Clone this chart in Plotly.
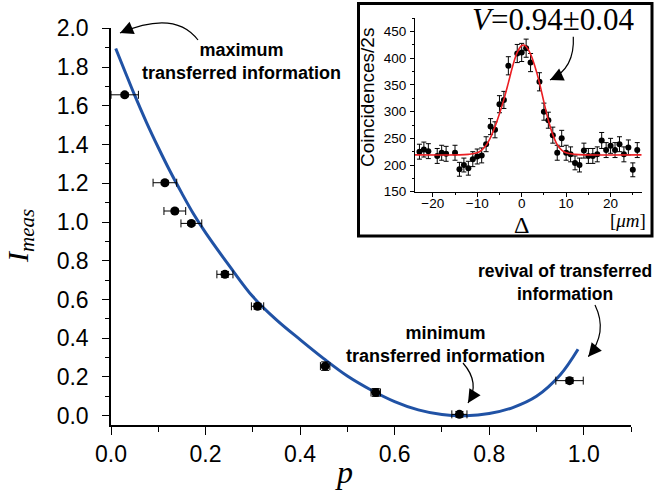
import plotly.graph_objects as go

# ---------------- data ----------------
# main panel: measured points
p_meas = [0.029, 0.114, 0.135, 0.170, 0.241, 0.310, 0.453, 0.560, 0.737, 0.970]
I_meas = [1.657, 1.203, 1.057, 0.993, 0.730, 0.565, 0.256, 0.120, 0.007, 0.181]
p_err = [0.029, 0.025, 0.023, 0.022, 0.017, 0.013, 0.010, 0.010, 0.016, 0.029]
I_err = [0.010, 0.010, 0.010, 0.010, 0.015, 0.015, 0.022, 0.020, 0.015, 0.015]

# main panel: theory curve
p_curve = [0.010, 0.030, 0.050, 0.075, 0.100, 0.125, 0.150, 0.175, 0.200, 0.250,
           0.300, 0.350, 0.400, 0.450, 0.500, 0.550, 0.600, 0.650, 0.700, 0.750,
           0.800, 0.850, 0.900, 0.950, 0.988]
I_curve = [1.896, 1.775, 1.655, 1.515, 1.385, 1.262, 1.148, 1.040, 0.945, 0.775,
           0.615, 0.495, 0.393, 0.295, 0.205, 0.133, 0.073, 0.030, 0.006, 0.000,
           0.011, 0.042, 0.100, 0.210, 0.343]

# inset: coincidences vs delay
delta = [-23, -22, -21, -19, -18, -17, -15, -14, -13, -12, -11, -10, -9, -8, -7, -6,
         -5, -4, -3, -1, 0, 1, 2, 4, 5, 6, 7, 8, 9, 10, 11, 12, 13, 14, 15, 16, 17,
         18, 19, 20, 21, 22, 23, 24, 25, 26]
coinc = [225, 229, 226, 217, 223, 221, 223, 192, 200, 194, 211, 216, 218, 239, 272, 266,
         314, 322, 386, 409, 411, 419, 392, 356, 300, 284, 256, 223, 250, 223, 220, 204,
         200, 227, 217, 217, 220, 246, 228, 236, 228, 239, 220, 233, 191, 228]
coinc_err = [14, 14, 14, 14, 14, 14, 14, 13, 13, 13, 14, 14, 14, 14, 15, 15,
             16, 16, 17, 17, 17, 17, 17, 17, 16, 15, 15, 14, 15, 14, 14, 13,
             13, 14, 14, 14, 14, 15, 14, 14, 14, 14, 14, 14, 13, 14]

# inset: fitted curve
delta_fit = [-24, -14, -12, -10, -9, -8, -7, -6, -5, -4, -3, -2, -1, 0, 0.5, 1, 2, 3, 4,
             5, 6, 7, 8, 9, 10, 12, 14, 27]
coinc_fit = [219, 219, 220, 223, 228, 237, 252, 272, 296, 323, 354, 386, 411, 424, 425,
             422, 408, 384, 354, 318, 284, 257, 238, 228, 223, 220, 219, 219]

# tick labels / texts
vis_text = "<i>V</i>=0.94±0.04"

# ---------------- layout helpers ----------------
W, H = 657, 491
ML, MR, MT, MB = 111, 10, 10, 66
PW, PH = W - ML - MR, H - MT - MB


def px(x, y):
    return (x - ML) / PW, (H - MB - y) / PH


BLUE = "rgb(32,82,165)"
RED = "rgb(235,30,35)"
SANS = "Liberation Sans, Arial, sans-serif"
SERIF = "Liberation Serif, Times New Roman, serif"

fig = go.Figure()

fig.add_trace(go.Scatter(x=p_curve, y=I_curve, mode="lines", line=dict(color=BLUE, width=3, shape="spline"),
                         xaxis="x", yaxis="y", hoverinfo="skip"))
fig.add_trace(go.Scatter(x=p_meas, y=I_meas, mode="markers",
                         marker=dict(color="black", size=9),
                         error_x=dict(type="data", array=p_err, color="black", thickness=1, width=4),
                         error_y=dict(type="data", array=I_err, color="black", thickness=1, width=4),
                         xaxis="x", yaxis="y"))

fig.add_trace(go.Scatter(x=delta, y=coinc, mode="markers",
                         marker=dict(color="black", size=6),
                         error_y=dict(type="data", array=coinc_err, color="black", thickness=1, width=2.5),
                         xaxis="x2", yaxis="y2"))
fig.add_trace(go.Scatter(x=delta_fit, y=coinc_fit, mode="lines", line=dict(color=RED, width=1.6, shape="spline"),
                         xaxis="x2", yaxis="y2", hoverinfo="skip"))

main_xdom = [0, (631 - ML) / PW]
main_ydom = [0, (H - MB - 28.0) / PH]
ins_xdom = [(415 - ML) / PW, (641.7 - ML) / PW]
ins_ydom = [(H - MB - 191.7) / PH, (H - MB - 18.3) / PH]

axis_common = dict(showgrid=False, zeroline=False, showline=True, linecolor="black",
                   ticks="outside", tickcolor="black", mirror=False, automargin=False)

layout = dict(
    template="none",
    width=W, height=H,
    autosize=False,
    margin=dict(l=ML, r=MR, t=MT, b=MB, pad=0, autoexpand=False),
    paper_bgcolor="white", plot_bgcolor="rgba(0,0,0,0)",
    showlegend=False,
    xaxis=dict(**axis_common, domain=main_xdom, range=[0, 1.1], anchor="y",
               tick0=0, dtick=0.2, tickformat=".1f", ticklen=8, tickwidth=1.3, linewidth=1.5,
               minor=dict(dtick=0.1, ticklen=5, tickcolor="black", ticks="outside", tickwidth=1.2),
               tickfont=dict(family=SANS, size=23, color="black"), ticklabelstandoff=0),
    yaxis=dict(**axis_common, domain=main_ydom, range=[-0.048, 2.002], anchor="x",
               tick0=0, dtick=0.2, tickformat=".1f", ticklen=7, tickwidth=1.3, linewidth=1.5,
               minor=dict(dtick=0.1, ticklen=4, tickcolor="black", ticks="outside", tickwidth=1.2),
               tickfont=dict(family=SANS, size=23, color="black"), ticklabelstandoff=9),
    xaxis2=dict(**axis_common, domain=ins_xdom, range=[-24, 27], anchor="y2",
                tick0=0, dtick=10, ticklen=4, linewidth=1,
                minor=dict(dtick=5, ticklen=2.5, tickcolor="black", ticks="outside"),
                tickfont=dict(family=SANS, size=13.5, color="black"), ticklabelstandoff=-5),
    yaxis2=dict(**axis_common, domain=ins_ydom, range=[150, 475], anchor="x2",
                tick0=150, dtick=50, ticklen=4, linewidth=1,
                minor=dict(dtick=25, ticklen=2.5, tickcolor="black", ticks="outside"),
                tickfont=dict(family=SANS, size=13.5, color="black"), ticklabelstandoff=1),
)
fig.update_layout(**layout)

# inset frame
x0, y0 = px(358.5, 3.5)
x1, y1 = px(652, 236)
fig.add_shape(type="rect", xref="paper", yref="paper", x0=x0, y0=y1, x1=x1, y1=y0,
              line=dict(color="black", width=3), fillcolor="white", layer="below")

annots = []


def text_at(x, y, text, size, family=SANS, bold=False, angle=0, align="center"):
    ax_, ay_ = px(x, y)
    t = f"<b>{text}</b>" if bold else text
    annots.append(dict(x=ax_, y=ay_, xref="paper", yref="paper", text=t, showarrow=False,
                       font=dict(family=family, size=size, color="black"),
                       xanchor="center", yanchor="middle", textangle=angle, align=align))


# annotations text
text_at(241, 61, "maximum<br>transferred information", 18, bold=True)
text_at(445, 344, "minimum<br>transferred information", 18, bold=True)
text_at(565, 282, "revival of transferred<br>information", 17.5, bold=True)

# axis titles
text_at(20, 236, "<i>I</i><sub><i>meas</i></sub>", 30, family=SERIF, angle=-90)
text_at(344, 472, "<i>p</i>", 32, family=SERIF)

# inset labels
text_at(367, 98, "Coincidences/2s", 19, angle=-90)
text_at(521.5, 224.5, "Δ", 24, family=SERIF)
text_at(628, 220, "[<i>μm</i>]", 19, family=SERIF)
text_at(553, 20, vis_text, 31, family=SERIF)


def curved_arrow(p0, c, p2):
    a = px(*p0)
    b = px(*c)
    d = px(*p2)
    fig.add_shape(type="path", xref="paper", yref="paper",
                  path=f"M {a[0]},{a[1]} Q {b[0]},{b[1]} {d[0]},{d[1]}",
                  line=dict(color="black", width=1.2))
    tx, ty = p2[0] - c[0], p2[1] - c[1]
    n = (tx ** 2 + ty ** 2) ** 0.5
    L = 6
    annots.append(dict(x=d[0], y=d[1], xref="paper", yref="paper", text="", showarrow=True,
                       ax=-tx / n * L, ay=-ty / n * L, arrowhead=2, arrowsize=2.2,
                       arrowwidth=1.2, arrowcolor="black", standoff=0))


curved_arrow((198, 40), (175, 9.5), (120, 33))
curved_arrow((463, 363), (480.5, 383), (468, 403))
curved_arrow((595, 305), (608.3, 332.5), (588.3, 356.7))
curved_arrow((573.3, 36.7), (575, 68.3), (550, 80))

fig.update_layout(annotations=annots)

fig.write_html("out.html", config={"displayModeBar": False},
               post_script="document.body.style.margin='0';document.body.style.padding='0';")
